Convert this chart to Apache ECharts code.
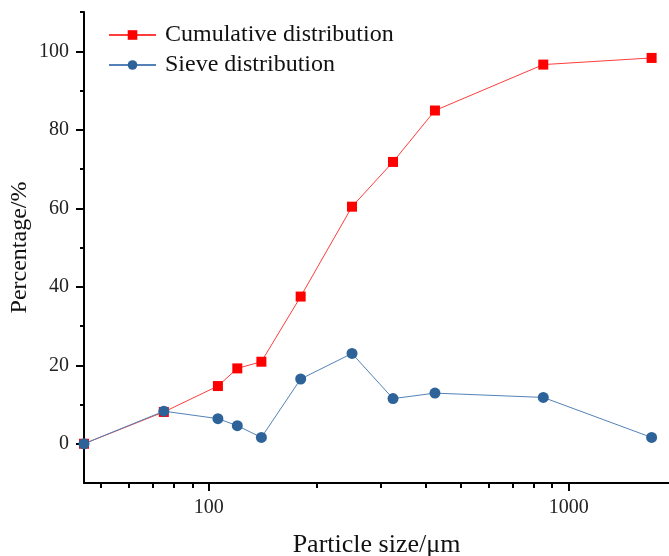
<!DOCTYPE html>
<html>
<head>
<meta charset="utf-8" />
<title>Particle size distribution</title>
<script src="https://cdn.jsdelivr.net/npm/echarts@6/dist/echarts.min.js"></script>
<style>html,body{margin:0;padding:0;background:#fff;}</style>
</head>
<body>
<div id="main" style="width:669px;height:556px;"></div>
<script type="text/javascript">
// particle sizes (um) and percentages
var sizes = [45, 75, 106, 120, 140, 180, 250, 325, 425, 850, 1700];
var cumulative = [0, 8.1, 14.7, 19.2, 20.9, 37.5, 60.4, 71.8, 84.9, 96.6, 98.3];
var sieve = [0, 8.3, 6.4, 4.6, 1.6, 16.5, 23.0, 11.5, 12.9, 11.8, 1.6];

// tick values
var xMajor = [100, 1000];
var xMinor = [50, 60, 70, 80, 90, 200, 300, 400, 500, 600, 700, 800, 900];
var yMajor = [0, 20, 40, 60, 80, 100];
var yMinor = [10, 30, 50, 70, 90, 110];

var font = "'Liberation Serif', 'Times New Roman', serif";

function pairs(ys) {
    return sizes.map(function (x, i) { return [x, ys[i]]; });
}

var myChart = echarts.init(document.getElementById('main'));

var option = {
    backgroundColor: '#fff',
    animation: false,
    grid: { left: 84, right: 0, top: 12, bottom: 73, outerBoundsMode: 'none' },
    legend: {
        orient: 'vertical',
        left: 103,
        top: 18,
        itemWidth: 47,
        itemHeight: 12,
        itemGap: 6,
        textStyle: { fontFamily: font, fontSize: 24, color: '#111', padding: [0, 0, 0, 4] },
        data: ['Cumulative distribution', 'Sieve distribution']
    },
    xAxis: [{
        type: 'log',
        logBase: 10,
        min: 45,
        max: 1900,
        name: 'Particle size/\u03bcm',
        nameLocation: 'middle',
        nameGap: 49,
        nameMoveOverlap: false,
        nameTextStyle: { fontFamily: font, fontSize: 26, color: '#111' },
        axisLine: { onZero: false, lineStyle: { color: '#000', width: 2 } },
        axisTick: { customValues: xMajor, length: 8, lineStyle: { color: '#000', width: 2 } },
        axisLabel: {
            customValues: xMajor, fontFamily: font, fontSize: 20, color: '#222', margin: 15,
            formatter: function (v) { return String(v); }
        },
        splitLine: { show: false }
    }, {
        type: 'log',
        logBase: 10,
        min: 45,
        max: 1900,
        position: 'bottom',
        axisLine: { show: false, onZero: false },
        axisTick: { customValues: xMinor, length: 5, lineStyle: { color: '#000', width: 2 } },
        axisLabel: { show: false },
        splitLine: { show: false }
    }],
    yAxis: [{
        type: 'value',
        min: -10,
        max: 110,
        name: 'Percentage/%',
        nameLocation: 'middle',
        nameGap: 52,
        nameMoveOverlap: false,
        nameTextStyle: { fontFamily: font, fontSize: 24, color: '#111' },
        axisLine: { show: true, lineStyle: { color: '#000', width: 2 } },
        axisTick: { show: true, customValues: yMajor, length: 8, lineStyle: { color: '#000', width: 2 } },
        axisLabel: { customValues: yMajor, fontFamily: font, fontSize: 20, color: '#222', margin: 15 },
        splitLine: { show: false }
    }, {
        type: 'value',
        min: -10,
        max: 110,
        position: 'left',
        axisLine: { show: false },
        axisTick: { show: true, customValues: yMinor, length: 4, lineStyle: { color: '#000', width: 2 } },
        axisLabel: { show: false },
        splitLine: { show: false }
    }],
    series: [{
        name: 'Cumulative distribution',
        type: 'line',
        data: pairs(cumulative),
        symbol: 'rect',
        symbolSize: 10,
        itemStyle: { color: '#ff0000' },
        lineStyle: { color: '#ff3d3d', width: 1 },
        z: 2
    }, {
        name: 'Sieve distribution',
        type: 'line',
        data: pairs(sieve),
        symbol: 'circle',
        symbolSize: 11,
        itemStyle: { color: '#2d6398' },
        lineStyle: { color: '#5482b8', width: 1 },
        z: 3
    }]
};

myChart.setOption(option);
</script>
</body>
</html>
